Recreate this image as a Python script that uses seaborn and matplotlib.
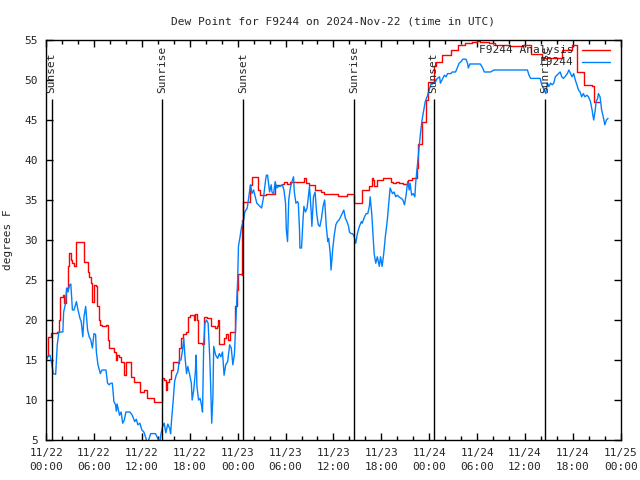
import pandas as pd
import matplotlib
matplotlib.use("Agg")
import matplotlib.pyplot as plt
import matplotlib.dates as mdates
import seaborn as sns

# =========================
# DATA (hours since 2024-11-22 00:00 UTC, dew point in F)
# =========================
analysis_hours = [
    0.0, 0.3, 0.6, 1.4, 1.6, 1.8, 2.1, 2.2, 2.5, 2.7, 2.9, 3.1, 3.3, 3.5, 3.7, 3.8,
    4.5, 4.75, 5.0, 5.2, 5.4, 5.6, 5.8, 6.0, 6.2, 6.4, 6.6, 6.8, 7.0, 7.5, 7.7, 7.9,
    8.3, 8.5, 8.7, 8.9, 9.1, 9.4, 9.75, 10.0, 10.4, 10.7, 11.0, 11.6, 11.8, 12.25,
    12.7, 13.1, 13.5, 14.1, 14.5, 14.75, 15.0, 15.2, 15.4, 15.7, 15.9, 16.3, 16.5,
    16.7, 16.9, 17.1, 17.5, 17.75, 18.0, 18.3, 18.5, 18.7, 18.9, 19.0, 19.5, 19.8,
    20.2, 20.7, 21.1, 21.4, 21.6, 21.7, 22.1, 22.3, 22.5, 22.75, 23.0, 23.6, 23.7,
    23.9, 24.0, 24.5, 24.6, 24.7, 25.4, 25.6, 25.8, 26.5, 26.6, 26.8, 27.5, 28.5,
    28.7, 29.6, 29.8, 30.2, 30.6, 31.5, 31.9, 32.3, 32.6, 32.9, 33.5, 33.7, 34.5,
    34.8, 36.4, 36.6, 37.5, 37.7, 38.3, 38.6, 39.3, 39.6, 40.3, 40.5, 40.8, 41.0,
    41.1, 41.3, 41.5, 42.2, 42.8, 43.2, 43.5, 43.9, 44.25, 44.7, 45.1, 45.3, 45.9,
    46.3, 46.5, 46.6, 46.9, 47.1, 47.5, 47.65, 47.8, 48.4, 48.6, 48.9, 49.5, 49.6,
    50.5, 50.7, 51.3, 51.6, 52.5, 53.4, 54.0, 54.4, 55.5, 56.3, 57.2, 58.0, 59.3,
    59.7, 60.5, 60.7, 61.9, 62.1, 64.4, 64.6, 65.7, 65.9, 66.4, 66.5, 67.2, 67.4,
    68.4, 68.6, 69.4,
]
analysis_dewpt = [
    15.5, 17.9, 18.4, 18.5, 20.0, 22.9, 23.1, 22.1, 24.0, 26.7, 28.4, 27.5, 27.1, 26.7, 29.0, 29.7,
    29.7, 27.3, 27.3, 26.0, 25.4, 24.6, 22.3, 24.4, 24.2, 21.7, 20.0, 19.4, 19.2, 19.4, 17.5, 16.5,
    16.5, 16.0, 15.0, 15.6, 15.4, 14.8, 13.1, 14.8, 14.7, 12.9, 12.3, 12.3, 11.0, 11.2,
    10.2, 10.2, 9.8, 9.7, 12.7, 12.5, 11.25, 12.3, 12.6, 13.75, 14.8, 14.8, 14.6,
    16.5, 17.7, 18.3, 18.5, 20.4, 20.6, 20.6, 20.0, 20.8, 20.0, 17.1, 17.0, 20.4,
    20.2, 19.2, 19.0, 19.2, 20.0, 17.0, 17.0, 17.7, 18.3, 17.5, 18.5, 18.5, 21.7,
    23.75, 25.8, 25.6, 32.5, 34.8, 34.8, 36.9, 37.9, 37.9, 36.25, 35.6, 35.7, 35.75,
    36.9, 37.0, 37.2, 37.0, 37.3, 37.3, 37.2, 37.7, 37.1, 36.9, 36.9, 36.2, 36.0,
    35.7, 35.7, 35.5, 35.5, 35.7, 35.7, 34.6, 34.6, 36.25, 36.25, 36.7, 37.7, 37.5,
    36.7, 36.7, 37.5, 37.7, 37.7, 37.3, 37.1, 37.3, 37.1, 37.0, 37.0, 37.5, 37.7,
    37.7, 39.0, 42.0, 42.0, 44.8, 44.8, 47.5, 49.8, 49.8, 51.7, 52.3, 52.3, 53.1,
    53.1, 53.75, 53.75, 54.4, 54.6, 54.8, 54.9, 54.75, 54.6, 54.4, 54.4, 54.2, 54.2,
    54.4, 54.4, 53.3, 53.3, 52.7, 52.7, 53.75, 53.75, 54.4, 54.4, 51.0, 51.0, 49.4,
    49.2, 47.3, 47.3,
]

obs_hours = [
    0.0, 0.2, 0.5, 0.7, 0.9, 1.2, 1.4, 1.6, 2.1, 2.2, 2.4, 2.6, 2.75, 2.95, 3.1, 3.3,
    3.5, 3.8, 4.0, 4.25, 4.4, 4.6, 4.75, 4.96, 5.2, 5.4, 5.6, 5.8, 6.0, 6.2, 6.3, 6.5,
    6.8, 7.0, 7.5, 7.7, 7.9, 8.1, 8.3, 8.5, 8.7, 8.8, 8.9, 9.2, 9.4, 9.6, 9.8, 10.0,
    10.5, 10.8, 11.1, 11.3, 11.5, 11.75, 12.0, 12.25, 12.5, 12.7, 13.1, 13.7, 14.0,
    14.2, 14.4, 14.6, 14.8, 15.0, 15.25, 15.5, 15.6, 15.75, 15.9, 16.1, 16.3, 16.5,
    16.7, 16.9, 17.1, 17.25, 17.4, 17.6, 17.75, 18.0, 18.2, 18.3, 18.5, 18.7, 18.8,
    18.9, 19.1, 19.3, 19.5, 19.6, 19.75, 19.9, 20.1, 20.3, 20.5, 20.6, 20.75, 20.9,
    21.0, 21.25, 21.5, 21.7, 21.9, 22.1, 22.3, 22.5, 22.75, 23.0, 23.2, 23.4, 23.6,
    23.8, 24.0, 24.1, 24.3, 24.5, 24.7, 24.9, 25.2, 25.4, 25.6, 25.8, 26.0, 26.2,
    26.4, 26.6, 27.0, 27.25, 27.5, 27.6, 27.75, 28.0, 28.2, 28.3, 28.5, 28.7, 28.9,
    29.1, 29.3, 29.6, 29.8, 30.0, 30.1, 30.25, 30.4, 30.6, 30.8, 31.0, 31.1, 31.3,
    31.5, 31.6, 31.75, 31.8, 32.0, 32.2, 32.3, 32.5, 32.7, 32.9, 33.0, 33.2, 33.3,
    33.5, 33.7, 33.9, 34.1, 34.3, 34.5, 34.7, 34.9, 35.1, 35.3, 35.4, 35.6, 35.7,
    35.9, 36.1, 36.3, 36.5, 36.7, 36.9, 37.1, 37.3, 37.5, 37.7, 37.9, 38.0, 38.2,
    38.4, 38.6, 38.8, 39.0, 39.25, 39.5, 39.6, 39.9, 40.1, 40.3, 40.5, 40.6, 40.8,
    41.0, 41.1, 41.3, 41.5, 41.75, 41.9, 42.1, 42.3, 42.5, 42.75, 42.9, 43.1, 43.4,
    43.6, 43.8, 44.0, 44.2, 44.5, 44.7, 44.9, 45.1, 45.3, 45.5, 45.6, 45.8, 46.0,
    46.2, 46.3, 46.5, 46.75, 46.9, 47.1, 47.4, 47.5, 47.8, 48.0, 48.2, 48.6, 48.8,
    49.0, 49.3, 49.4, 49.7, 49.9, 50.1, 50.3, 50.7, 50.9, 51.3, 51.5, 51.75, 52.0,
    52.2, 52.6, 52.8, 52.9, 53.1, 54.4, 54.7, 54.9, 55.7, 56.1, 60.3, 60.5, 60.7,
    61.9, 62.1, 62.6, 62.8, 63.0, 63.2, 63.4, 63.6, 63.8, 64.0, 64.2, 64.4, 64.6,
    64.8, 65.0, 65.3, 65.5, 65.7, 65.9, 66.1, 66.3, 66.5, 66.7, 66.9, 67.1, 67.3,
    67.5, 67.75, 67.95, 68.2, 68.4, 68.6, 68.8, 68.9, 69.1, 69.2, 69.4, 69.6, 69.8,
    70.0, 70.2, 70.4,
]
obs_dewpt = [
    14.8, 15.4, 15.6, 14.6, 13.3, 13.2, 16.9, 18.5, 18.5, 21.0, 21.9, 24.0, 23.5, 24.4, 24.5, 21.25,
    21.25, 22.3, 21.25, 20.2, 19.8, 17.9, 20.4, 21.7, 18.75, 17.9, 17.5, 16.5, 18.3, 18.2, 16.0, 14.4,
    13.3, 13.75, 13.75, 12.1, 11.9, 12.1, 12.1, 9.8, 9.4, 8.6, 9.5, 8.1, 8.5, 7.1, 7.5, 8.5,
    8.5, 8.1, 7.3, 7.6, 6.9, 7.1, 6.25, 6.0, 5.25, 4.5, 5.8, 5.8, 5.2,
    4.5, 5.8, 6.7, 7.1, 5.9, 7.0, 6.4, 5.8, 7.9, 9.6, 12.3, 13.1, 13.5,
    15.0, 15.0, 16.25, 17.7, 15.4, 13.3, 14.2, 13.1, 12.1, 10.0, 11.25, 13.5, 15.6,
    11.7, 10.0, 10.2, 9.2, 8.5, 17.1, 19.6, 20.0, 19.6, 15.4, 12.5, 7.1, 10.4,
    16.7, 15.6, 15.2, 15.8, 15.4, 16.0, 13.1, 14.4, 14.8, 16.9, 16.5, 14.4, 15.8,
    20.4, 25.0, 29.2, 30.4, 31.7, 32.3, 33.5, 34.0, 35.4, 36.9, 35.8, 36.25, 35.4,
    34.6, 34.4, 34.0, 35.4, 37.5, 38.1, 38.1, 36.0, 36.9, 36.0, 35.75, 37.3, 36.5,
    36.7, 36.7, 36.9, 36.25, 34.6, 31.25, 29.8, 35.0, 36.5, 37.3, 37.9, 36.0, 34.6,
    34.8, 34.6, 31.25, 29.0, 29.0, 32.7, 34.2, 33.5, 34.0, 35.75, 36.7, 33.75, 31.7,
    35.4, 36.0, 33.3, 31.9, 31.7, 32.7, 34.2, 35.0, 31.7, 29.8, 30.2, 28.3, 26.25,
    28.75, 30.6, 31.9, 32.3, 32.5, 32.9, 33.3, 33.75, 32.7, 32.3, 31.7, 31.0, 30.8,
    30.8, 30.4, 29.6, 30.8, 31.7, 32.3, 32.1, 32.9, 33.3, 33.3, 34.2, 35.4, 33.3,
    30.0, 28.3, 27.1, 27.9, 26.7, 27.9, 26.7, 28.3, 30.4, 32.5, 34.2, 36.5, 35.8,
    36.0, 35.4, 35.6, 35.4, 35.2, 35.0, 34.4, 35.6, 37.3, 36.25, 37.1, 35.6, 35.8,
    35.4, 37.1, 39.2, 41.7, 43.3, 45.0, 46.7, 47.3, 48.1, 48.8, 49.4, 49.6, 49.8,
    50.2, 50.4, 49.6, 50.2, 50.6, 50.4, 50.8, 50.8, 51.0, 51.0, 51.5, 52.1, 52.3,
    52.6, 52.6, 52.1, 51.5, 52.0, 52.0, 51.5, 51.0, 51.0, 51.25, 51.25, 50.6, 50.2,
    50.2, 49.4, 48.3, 49.6, 49.2, 49.6, 49.4, 49.6, 50.4, 50.6, 50.8, 51.0, 50.4,
    50.2, 50.4, 50.8, 51.25, 50.8, 50.4, 50.8, 50.0, 49.4, 48.75, 48.5, 47.9, 48.3,
    47.9, 48.1, 47.9, 47.3, 46.25, 45.0, 46.25, 47.3, 47.7, 48.3, 47.9, 46.25, 45.4,
    44.4, 45.0, 45.2,
]

sun_hours = [0.7, 14.55, 24.67, 38.55, 48.55, 62.55]
sun_labels = ["Sunset", "Sunrise", "Sunset", "Sunrise", "Sunset", "Sunrise"]

start = pd.Timestamp("2024-11-22 00:00")
df_a = pd.DataFrame({"time": start + pd.to_timedelta(analysis_hours, unit="h"),
                     "dewpt": analysis_dewpt})
df_o = pd.DataFrame({"time": start + pd.to_timedelta(obs_hours, unit="h"),
                     "dewpt": obs_dewpt})
sun_times = start + pd.to_timedelta(sun_hours, unit="h")

# =========================
# PLOT
# =========================
sns.set_theme(style="ticks")
plt.rcParams['font.family'] = ['DejaVu Sans Mono']
plt.rcParams['font.size'] = 8

fig, ax = plt.subplots(figsize=(6.4, 4.8), dpi=100)
fig.subplots_adjust(left=0.072, right=0.970, top=0.9167, bottom=0.0833)

sns.lineplot(data=df_a, x="time", y="dewpt", color="#ff0000", lw=1.0,
             drawstyle="steps-post", estimator=None, ax=ax)
sns.lineplot(data=df_o, x="time", y="dewpt", color="#0080ff", lw=1.0,
             estimator=None, ax=ax)

# sunrise / sunset markers
ax.vlines(sun_times, 5, 47.6, color="black", lw=1.0)
for t, lab in zip(sun_times, sun_labels):
    ax.text(t, 48.4, lab, rotation=90, ha="center", va="bottom", fontsize=8)

ax.set_xlim(start, start + pd.Timedelta(hours=72))
ax.set_ylim(5, 55)
ax.set_yticks(range(5, 56, 5))
ax.xaxis.set_major_locator(mdates.HourLocator(byhour=[0, 6, 12, 18]))
ax.xaxis.set_minor_locator(mdates.HourLocator(interval=2))
ax.xaxis.set_major_formatter(mdates.DateFormatter("%m/%d\n%H:%M"))

ax.tick_params(which="both", direction="in", top=True, right=True,
               labelsize=8, color="black", width=1)
ax.tick_params(which="major", length=5, pad=6)
ax.tick_params(which="minor", length=3)
for lbl in ax.get_xticklabels():
    lbl.set_linespacing(1.5)
for s in ax.spines.values():
    s.set_color("black")
    s.set_linewidth(1)

ax.set_xlabel("")
ax.set_ylabel("degrees F", fontsize=8, labelpad=8)
ax.set_title("Dew Point for F9244 on 2024-Nov-22 (time in UTC)", fontsize=8, pad=11)

# legend, gnuplot style (right-aligned text, sample on the right)
ax.text(0.918, 0.975, "F9244 Analysis", transform=ax.transAxes, ha="right", va="center", fontsize=8)
ax.text(0.918, 0.945, "F9244", transform=ax.transAxes, ha="right", va="center", fontsize=8)
ax.plot([0.932, 0.981], [0.975, 0.975], transform=ax.transAxes, color="#ff0000", lw=1)
ax.plot([0.932, 0.981], [0.945, 0.945], transform=ax.transAxes, color="#0080ff", lw=1)

fig.savefig("out.png", dpi=100)
